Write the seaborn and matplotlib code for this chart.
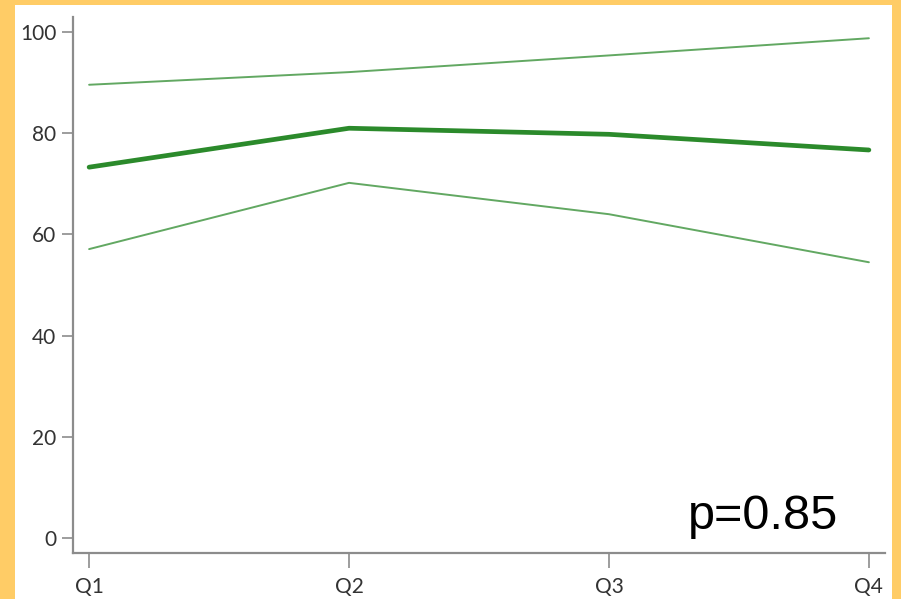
import matplotlib
matplotlib.use("Agg")
import matplotlib.pyplot as plt
from matplotlib.patches import Rectangle
import pandas as pd
import seaborn as sns

quarters = ["Q1", "Q2", "Q3", "Q4"]
mean_vals = [73.3, 81.0, 79.8, 76.7]
upper_vals = [89.6, 92.1, 95.4, 98.8]
lower_vals = [57.1, 70.2, 64.0, 54.5]
y_ticks = [0, 20, 40, 60, 80, 100]
p_label = "p=0.85"

sns.set_theme(style="white")
plt.rcParams["font.family"] = ["Lato", "DejaVu Sans"]

fig = plt.figure(figsize=(9.01, 5.99), dpi=100)
fig.patch.set_facecolor("#FFCC66")
# white card behind the plot area
fig.patches.append(Rectangle((15 / 901, 0), (892 - 15) / 901, (599 - 5) / 599,
                             transform=fig.transFigure, facecolor="white",
                             edgecolor="none", zorder=-10))

ax = fig.add_axes([73 / 901, (599 - 553) / 599, (885 - 73) / 901, (553 - 17) / 599])
ax.set_zorder(5)
ax.set_facecolor("none")

df = pd.DataFrame({
    "x": list(range(4)) * 3,
    "value": upper_vals + mean_vals + lower_vals,
    "series": ["upper"] * 4 + ["mean"] * 4 + ["lower"] * 4,
})

thin = "#62a862"
thick = "#2b8a2b"
sns.lineplot(data=df[df.series == "upper"], x="x", y="value", ax=ax,
             color=thin, linewidth=1.4)
sns.lineplot(data=df[df.series == "lower"], x="x", y="value", ax=ax,
             color=thin, linewidth=1.4)
sns.lineplot(data=df[df.series == "mean"], x="x", y="value", ax=ax,
             color=thick, linewidth=3.4)

ax.set_xlim(-0.062, 3.062)
ax.set_ylim(-3, 103)
ax.set_xticks(range(4))
ax.set_xticklabels(quarters)
ax.set_yticks(y_ticks)
ax.set_xlabel("")
ax.set_ylabel("")

for side in ["top", "right"]:
    ax.spines[side].set_visible(False)
for side in ["left", "bottom"]:
    ax.spines[side].set_color("#8c8c8c")
    ax.spines[side].set_linewidth(1.6)

ax.tick_params(axis="both", which="major", direction="out", width=1.2,
               color="#8c8c8c", labelsize=15, labelcolor="#333333",
               left=True, bottom=True)
ax.tick_params(axis="y", length=8, pad=4)
ax.tick_params(axis="x", length=11, pad=6)

ax.text(838 / 901, (599 - 529) / 599, p_label, transform=fig.transFigure,
        ha="right", va="baseline", fontsize=35,
        family=["Liberation Sans", "DejaVu Sans"], color="black", zorder=10)

fig.savefig("out.png", dpi=100, facecolor=fig.get_facecolor())
